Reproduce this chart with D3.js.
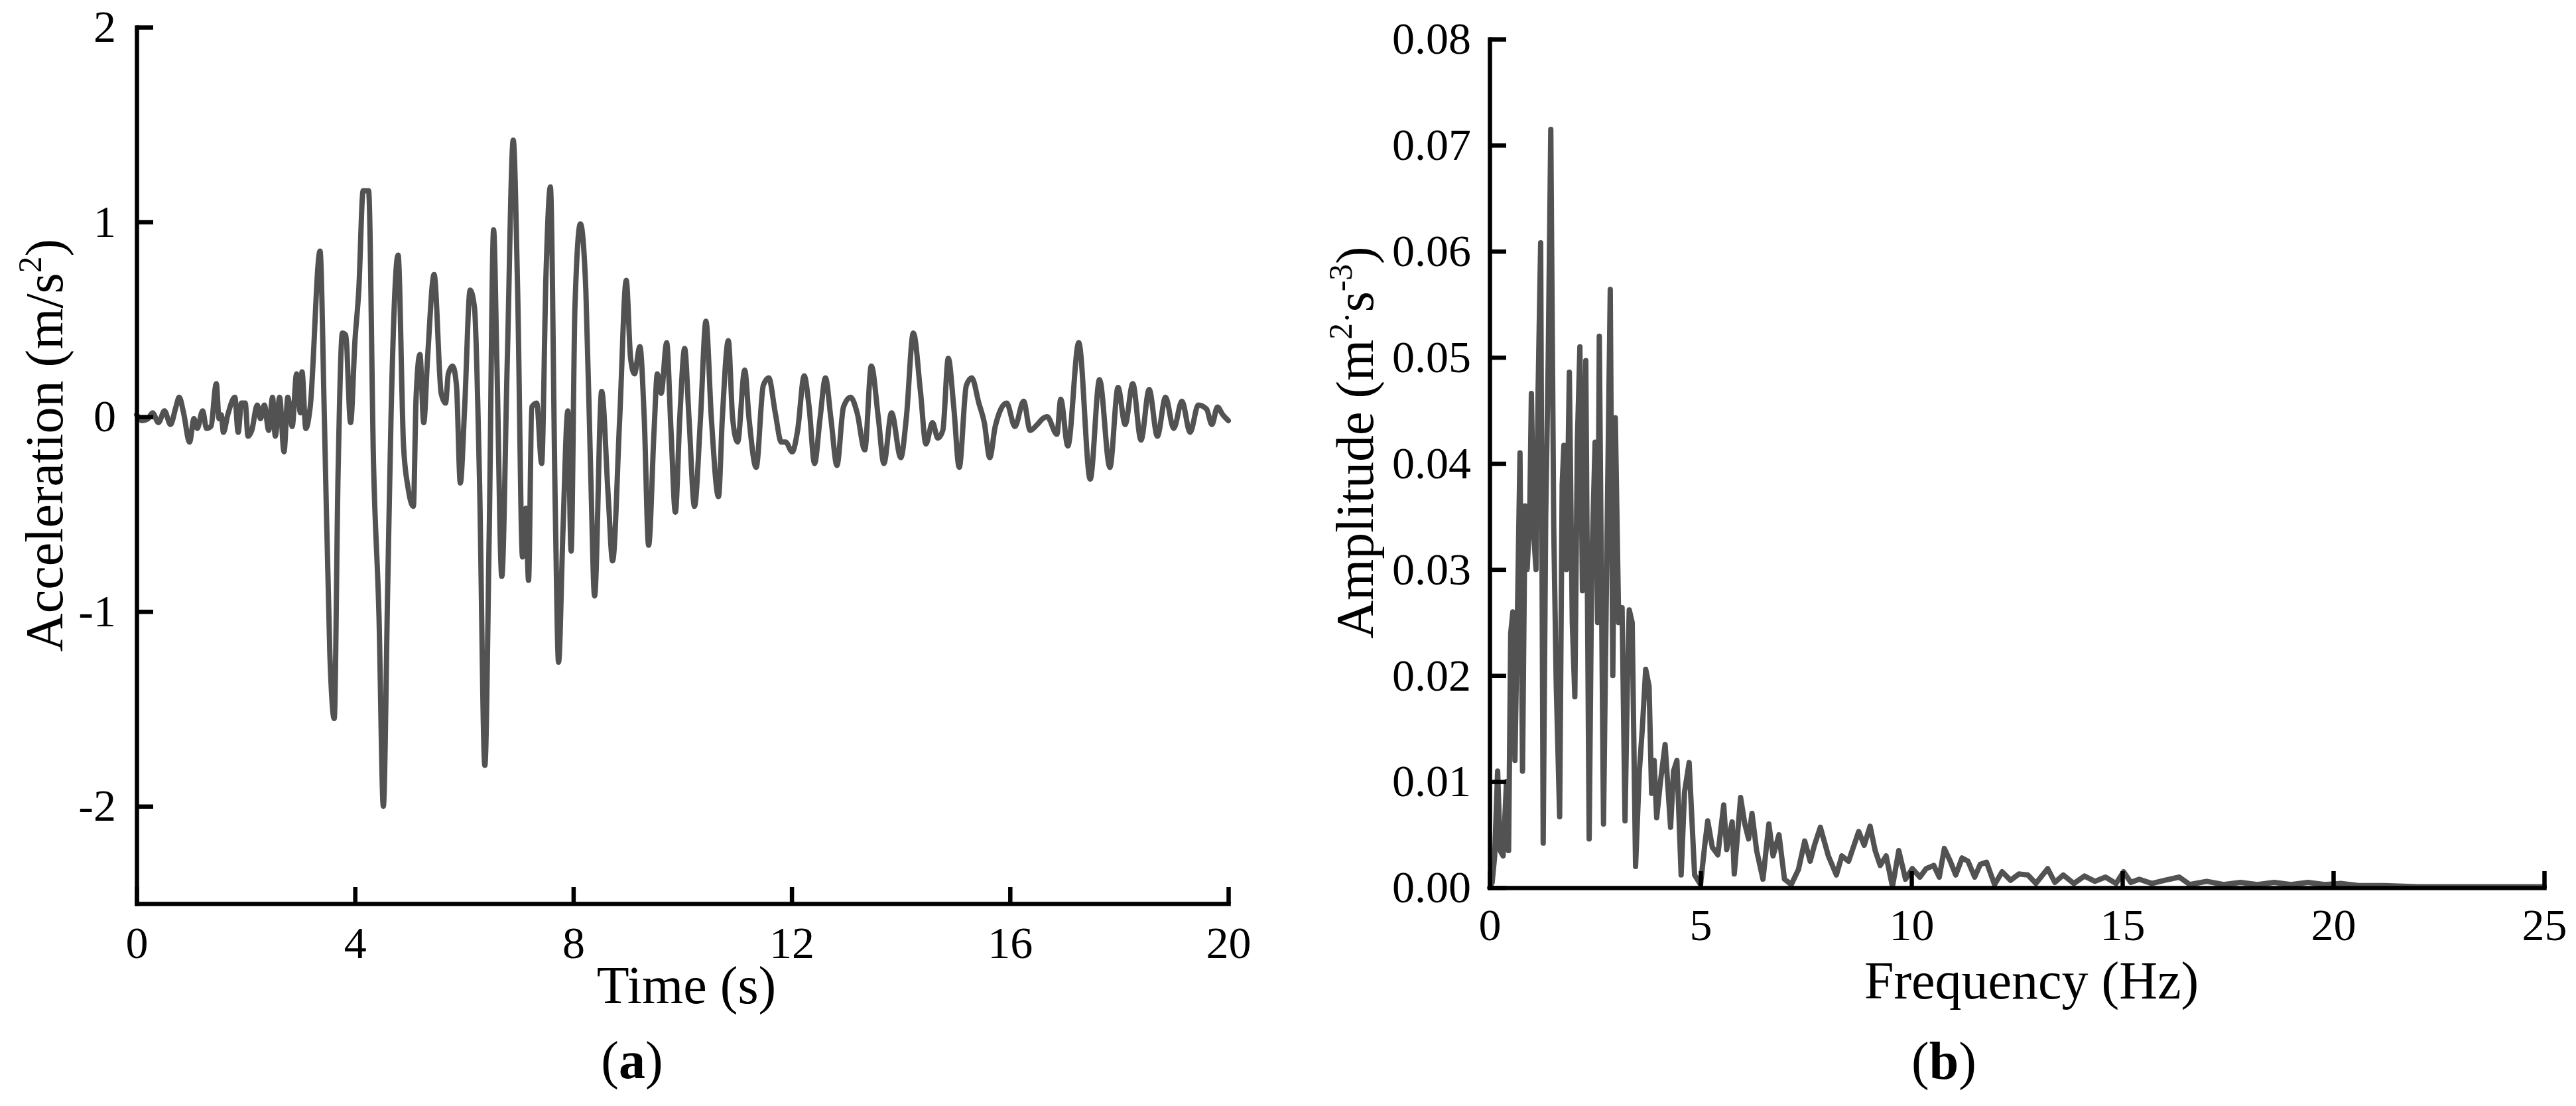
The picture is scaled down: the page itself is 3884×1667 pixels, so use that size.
<!DOCTYPE html>
<html>
<head>
<meta charset="utf-8">
<script src="https://cdn.jsdelivr.net/npm/d3@7"></script>
<style>
  html, body { margin: 0; padding: 0; background: #fff; }
  svg { display: block; }
  text { font-family: "Liberation Serif", "Times New Roman", serif; fill: #000; }
</style>
</head>
<body>
<svg id="chart" width="3884" height="1667"></svg>
<script>
// ---------- Data ----------
// (a) acceleration time history: time (s)
const accTime = [
 0.00,0.10,0.21,0.29,0.40,0.51,0.62,0.72,0.78,0.86,0.97,1.05,1.11,1.21,1.28,1.36,1.46,1.51,1.55,1.59,1.67,1.80,1.86,1.92,1.99,2.04,
 2.11,2.21,2.27,2.34,2.42,2.49,2.54,2.62,2.70,2.77,2.85,2.93,3.00,3.03,3.10,3.18,3.36,3.44,3.54,3.62,3.69,3.77,3.83,3.92,
 4.00,4.07,4.15,4.25,4.34,4.44,4.52,4.60,4.66,4.79,4.89,4.97,5.07,5.12,5.19,5.26,5.33,5.45,5.58,5.66,5.71,5.79,5.86,5.93,
 6.01,6.11,6.19,6.28,6.38,6.46,6.54,6.60,6.69,6.79,6.90,6.98,7.07,7.13,7.18,7.24,7.33,7.42,7.50,7.58,7.67,7.73,7.81,7.90,7.96,
 8.03,8.13,8.23,8.32,8.39,8.52,8.64,8.72,8.85,8.97,9.05,9.12,9.22,9.30,9.38,9.48,9.54,9.61,9.71,9.79,9.87,9.95,
 10.04,10.12,10.22,10.33,10.43,10.53,10.66,10.73,10.84,10.92,11.01,11.14,11.22,11.35,11.48,11.58,11.70,11.81,11.89,
 12.01,12.11,12.23,12.32,12.42,12.52,12.62,12.72,12.83,12.95,13.08,13.20,13.34,13.46,13.59,13.69,13.83,
 14.00,14.10,14.23,14.36,14.46,14.58,14.68,14.77,14.87,14.97,15.07,15.20,15.30,15.43,15.53,15.63,15.73,15.94,
 16.09,16.25,16.37,16.50,16.60,16.68,16.86,16.93,17.06,17.26,17.47,17.64,17.83,17.98,18.11,
 18.25,18.40,18.55,18.70,18.85,19.00,19.15,19.30,19.45,19.60,19.70,19.80,19.90,20.00
];
// (a) acceleration (m/s^2)
const accValue = [
 0.01,-0.02,-0.01,0.02,-0.03,0.03,-0.04,0.05,0.10,0.02,-0.13,-0.01,-0.06,0.03,-0.06,-0.05,0.17,-0.01,0.01,-0.08,0.01,0.10,-0.08,0.07,0.07,-0.10,
 -0.07,0.06,-0.01,0.06,-0.07,0.10,-0.10,0.10,-0.18,0.10,-0.05,0.22,0.02,0.23,-0.06,0.05,0.85,-0.01,-1.22,-1.55,-0.30,0.43,0.42,-0.03,
 0.39,0.65,1.16,1.16,-0.24,-1.02,-2.00,-0.87,-0.01,0.83,-0.15,-0.36,-0.46,0.10,0.32,-0.03,0.30,0.73,0.12,0.07,0.22,0.26,0.16,-0.34,
 0.05,0.65,0.56,-0.30,-1.79,-0.59,0.96,0.28,-0.82,0.28,1.42,0.65,-0.72,-0.47,-0.84,0.05,0.07,-0.24,0.73,1.18,-0.47,-1.26,-0.59,0.03,-0.69,
 0.56,0.99,0.65,-0.30,-0.92,0.13,-0.41,-0.74,-0.01,0.70,0.30,0.22,0.36,-0.01,-0.66,-0.07,0.22,0.12,0.38,-0.07,-0.49,-0.01,
 0.35,-0.01,-0.46,-0.01,0.49,-0.01,-0.41,-0.01,0.39,-0.01,-0.13,0.24,-0.01,-0.26,0.16,0.20,0.02,-0.13,-0.13,
 -0.18,-0.07,0.21,0.05,-0.24,-0.01,0.20,-0.01,-0.25,0.05,0.10,0.02,-0.17,0.26,-0.01,-0.24,0.02,
 -0.21,-0.01,0.43,0.13,-0.14,-0.03,-0.11,-0.07,0.30,0.05,-0.26,0.16,0.20,0.07,-0.03,-0.21,-0.05,0.07,
 -0.05,0.08,-0.07,-0.04,-0.01,0.00,-0.09,0.09,-0.15,0.38,-0.32,0.19,-0.26,0.15,-0.04,
 0.17,-0.12,0.14,-0.10,0.10,-0.06,0.08,-0.08,0.06,0.04,-0.04,0.05,0.01,-0.02
];
// (b) Fourier amplitude spectrum: frequency (Hz)
const specFreq = [
 0.00,0.06,0.12,0.19,0.25,0.32,0.40,0.45,0.50,0.55,0.60,0.66,0.72,0.78,0.84,0.89,0.95,0.99,1.05,1.10,1.15,1.21,1.27,1.33,1.39,1.45,
 1.52,1.58,1.66,1.72,1.76,1.82,1.89,1.96,2.02,2.08,2.14,2.20,2.28,2.36,2.42,2.50,2.56,2.60,2.70,2.78,2.86,2.92,2.98,3.06,3.14,
 3.21,3.27,3.31,3.38,3.46,3.55,3.62,3.70,3.78,3.84,3.90,3.96,4.05,4.16,4.29,4.36,4.44,4.54,4.62,4.73,4.86,5.00,
 5.10,5.17,5.28,5.41,5.55,5.62,5.75,5.80,5.95,6.05,6.14,6.22,6.33,6.48,6.62,6.72,6.86,6.99,7.15,7.32,7.47,7.60,7.70,7.84,
 8.03,8.22,8.35,8.51,8.75,8.88,9.02,9.14,9.26,9.40,9.55,9.70,9.86,10.02,10.20,10.35,10.53,10.66,10.78,10.92,11.05,11.20,
 11.34,11.50,11.63,11.78,11.97,12.15,12.35,12.55,12.76,12.95,13.23,13.40,13.60,13.85,14.10,14.35,14.60,14.85,15.03,15.20,
 15.40,15.70,16.00,16.35,16.60,17.00,17.40,17.80,18.20,18.60,19.00,19.40,19.80,20.20,20.60,21.20,22.00,23.00,24.00,25.00
];
// (b) amplitude (m^2·s^-3)
const specAmp = [
 0.0000,0.0005,0.0030,0.0110,0.0035,0.0030,0.0100,0.0035,0.0240,0.0260,0.0120,0.0260,0.0410,0.0110,0.0360,0.0300,0.0350,0.0466,0.0330,0.0300,0.0470,0.0608,0.0042,0.0350,0.0500,0.0715,
 0.0340,0.0190,0.0067,0.0380,0.0417,0.0300,0.0486,0.0250,0.0180,0.0420,0.0510,0.0280,0.0497,0.0046,0.0300,0.0420,0.0250,0.0520,0.0060,0.0320,0.0564,0.0200,0.0443,0.0250,0.0264,
 0.0063,0.0200,0.0262,0.0250,0.0020,0.0110,0.0150,0.0206,0.0190,0.0089,0.0120,0.0066,0.0100,0.0135,0.0057,0.0110,0.0120,0.0012,0.0090,0.0118,0.0012,0.0003,
 0.0040,0.0063,0.0038,0.0031,0.0078,0.0036,0.0062,0.0013,0.0085,0.0060,0.0046,0.0070,0.0035,0.0008,0.0060,0.0030,0.0050,0.0008,0.0003,0.0017,0.0044,0.0025,0.0040,0.0057,
 0.0030,0.0012,0.0030,0.0025,0.0053,0.0040,0.0058,0.0035,0.0021,0.0030,0.0001,0.0035,0.0008,0.0018,0.0010,0.0018,0.0021,0.0010,0.0037,0.0025,0.0012,0.0028,
 0.0025,0.0010,0.0022,0.0024,0.0003,0.0015,0.0007,0.0013,0.0012,0.0004,0.0018,0.0005,0.0012,0.0004,0.0011,0.0006,0.0010,0.0004,0.0015,0.0005,
 0.0008,0.0004,0.0007,0.0010,0.0003,0.0006,0.0003,0.0005,0.0003,0.0005,0.0003,0.0005,0.0003,0.0004,0.0002,0.0002,0.0001,0.0001,0.0001,0.0001
];
// tick values
const accXTicks = [0, 4, 8, 12, 16, 20];
const accYTicks = [-2, -1, 0, 1, 2];
const specXTicks = [0, 5, 10, 15, 20, 25];
const specYTicks = [0, 0.01, 0.02, 0.03, 0.04, 0.05, 0.06, 0.07, 0.08];

// ---------- Drawing ----------
const svg = d3.select("#chart");
const LINE = "#525252";
const LW = 8;
const AXW = 6.5;
const TICKFS = 68;
const TITLEFS = 80;

function styleAxis(g) {
  g.attr("font-family", null).attr("font-size", null);
  g.selectAll("path.domain").attr("stroke", "#000").attr("stroke-width", AXW)
    .attr("stroke-linecap", "square").attr("fill", "none");
  g.selectAll(".tick line").attr("stroke", "#000").attr("stroke-width", AXW);
  g.selectAll(".tick text").attr("font-size", TICKFS)
    .attr("font-family", '"Liberation Serif", "Times New Roman", serif').attr("fill", "#000");
}

// ---- Panel (a) ----
const xa = d3.scaleLinear().domain([0, 20]).range([206, 1852]);
const ya = d3.scaleLinear().domain([-2.5, 2]).range([1362, 41]);

const accData = accTime.map((t, i) => [t, accValue[i]]);
svg.append("path")
  .datum(accData)
  .attr("fill", "none")
  .attr("stroke", LINE)
  .attr("stroke-width", LW)
  .attr("stroke-linejoin", "round")
  .attr("stroke-linecap", "round")
  .attr("d", d3.line().x(d => xa(d[0])).y(d => ya(d[1])).curve(d3.curveMonotoneX));

svg.append("g").attr("transform", `translate(0,${ya(-2.5)})`)
  .call(d3.axisBottom(xa).tickValues(accXTicks).tickFormat(d => String(d))
    .tickSizeInner(-25).tickSizeOuter(0).tickPadding(34))
  .call(styleAxis);
svg.append("g").attr("transform", `translate(${xa(0)},0)`)
  .call(d3.axisLeft(ya).tickValues(accYTicks).tickFormat(d => String(d))
    .tickSizeInner(-25).tickSizeOuter(0).tickPadding(31))
  .call(styleAxis);

svg.append("text").attr("x", 1035).attr("y", 1512).attr("text-anchor", "middle")
  .attr("font-size", TITLEFS).text("Time (s)");

const yla = svg.append("text")
  .attr("transform", "translate(94,671) rotate(-90)")
  .attr("text-anchor", "middle").attr("font-size", TITLEFS);
yla.append("tspan").text("Acceleration (m/s");
yla.append("tspan").attr("font-size", TITLEFS * 0.62).attr("dy", -TITLEFS * 0.4).text("2");
yla.append("tspan").attr("dy", TITLEFS * 0.4).text(")");

const la = svg.append("text").attr("x", 953).attr("y", 1625).attr("text-anchor", "middle")
  .attr("font-size", TITLEFS);
la.append("tspan").text("(");
la.append("tspan").attr("font-weight", "bold").text("a");
la.append("tspan").text(")");

// ---- Panel (b) ----
const xb = d3.scaleLinear().domain([0, 25]).range([2246, 3836]);
const yb = d3.scaleLinear().domain([0, 0.08]).range([1338, 59]);

const specData = specFreq.map((f, i) => [f, specAmp[i]]);
svg.append("path")
  .datum(specData)
  .attr("fill", "none")
  .attr("stroke", LINE)
  .attr("stroke-width", LW)
  .attr("stroke-linejoin", "round")
  .attr("stroke-linecap", "round")
  .attr("d", d3.line().x(d => xb(d[0])).y(d => yb(d[1])));

svg.append("g").attr("transform", `translate(0,${yb(0)})`)
  .call(d3.axisBottom(xb).tickValues(specXTicks).tickFormat(d => String(d))
    .tickSizeInner(-25).tickSizeOuter(0).tickPadding(31))
  .call(styleAxis);
svg.append("g").attr("transform", `translate(${xb(0)},0)`)
  .call(d3.axisLeft(yb).tickValues(specYTicks).tickFormat(d => d.toFixed(2))
    .tickSizeInner(-25).tickSizeOuter(0).tickPadding(28))
  .call(styleAxis);

svg.append("text").attr("x", 3063).attr("y", 1505).attr("text-anchor", "middle")
  .attr("font-size", TITLEFS).text("Frequency (Hz)");

const ylb = svg.append("text")
  .attr("transform", "translate(2070,667) rotate(-90)")
  .attr("text-anchor", "middle").attr("font-size", TITLEFS);
ylb.append("tspan").text("Amplitude (m");
ylb.append("tspan").attr("font-size", TITLEFS * 0.62).attr("dy", -TITLEFS * 0.4).text("2");
ylb.append("tspan").attr("font-size", TITLEFS * 0.62).attr("dy", TITLEFS * 0.12).text("\u00B7");
ylb.append("tspan").attr("dy", TITLEFS * 0.28).text("s");
ylb.append("tspan").attr("font-size", TITLEFS * 0.62).attr("dy", -TITLEFS * 0.4).text("-3");
ylb.append("tspan").attr("dy", TITLEFS * 0.4).text(")");

const lb = svg.append("text").attr("x", 2931).attr("y", 1626).attr("text-anchor", "middle")
  .attr("font-size", TITLEFS);
lb.append("tspan").text("(");
lb.append("tspan").attr("font-weight", "bold").text("b");
lb.append("tspan").text(")");
</script>
</body>
</html>
